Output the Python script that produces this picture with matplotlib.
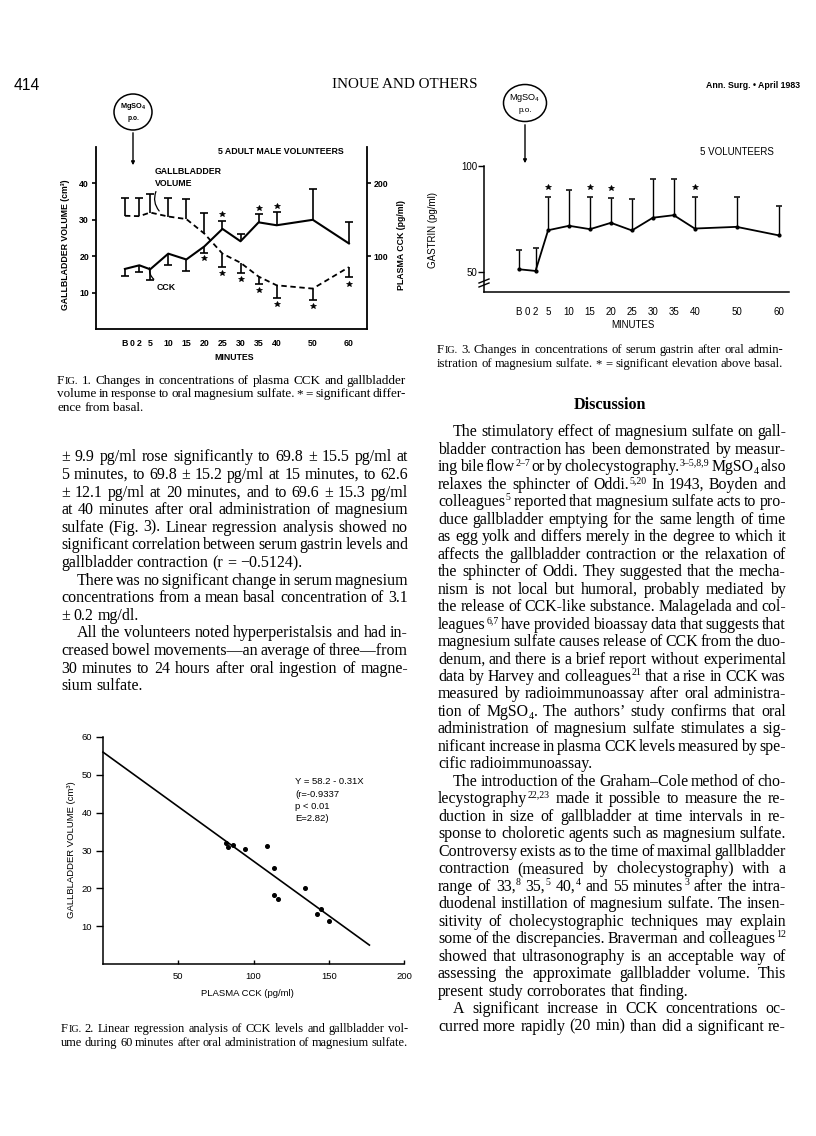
import re
from functools import lru_cache
import matplotlib
matplotlib.use('Agg')
import matplotlib.pyplot as plt
from matplotlib import font_manager as fm
from matplotlib.patches import Ellipse, FancyArrowPatch
from matplotlib.lines import Line2D

# ---------------- data ----------------
tick_pos = [-2, 0, 2, 5, 10, 15, 20, 25, 30, 35, 40, 50, 60]
tick_lab = ['B', '0', '2', '5', '10', '15', '20', '25', '30', '35', '40', '50', '60']
time_pts = [-2, 2, 5, 10, 15, 20, 25, 30, 35, 40, 50, 60]

# Fig 1: gallbladder volume (cm3, left axis) and plasma CCK (pg/ml, right axis)
gb_volume = [31.1, 31.0, 32.0, 30.9, 30.2, 26.2, 20.7, 18.2, 14.4, 12.0, 11.1, 17.0]
gb_err = [4.8, 4.9, 5.0, 5.0, 5.4, 5.6, -3.6, -2.9, -2.1, -3.5, -3.1, -2.8]
gb_sig = [0, 0, 0, 0, 0, 0, 1, 1, 1, 1, 1, 1]
cck_level = [82.5, 87.5, 82.0, 103.5, 95.5, 113.5, 137.5, 120.5, 146.5, 142.5, 150.0, 117.5]
cck_err = [-10, -9, -14.5, -16, -16, -9, 11.5, 10.5, 11.5, 18, 42, 30]
cck_sig = [0, 0, 0, 0, 0, 1, 1, 0, 1, 1, 0, 0]

# Fig 2: regression of gallbladder volume on plasma CCK
reg_cck = [81.9, 83.2, 86.7, 94.5, 108.8, 113.3, 113.7, 116.4, 134.3, 142.3, 144.9, 150.0]
reg_vol = [32.0, 30.9, 31.5, 30.3, 31.1, 25.4, 18.2, 17.3, 20.2, 13.2, 14.5, 11.3]
fit_x = [0, 177]
fit_y = [56.0, 5.0]
fit_text = ["Y = 58.2 - 0.31X", "(r=-0.9337", "p < 0.01", "E=2.82)"]

# Fig 3: serum gastrin (pg/ml)
gastrin = [51.3, 50.5, 69.7, 71.8, 70.2, 73.2, 69.6, 75.6, 76.8, 70.5, 71.3, 67.3]
gastrin_err = [9.3, 10.7, 15.8, 16.7, 15.3, 11.7, 14.6, 18.1, 17.2, 15.0, 14.2, 13.9]
gastrin_sig = [0, 0, 1, 0, 1, 1, 0, 0, 0, 1, 0, 0]

# ---------------- page text ----------------
fig1_caption = ["F~{IG.} 1. Changes in concentrations of plasma CCK and gallbladder",
                "volume in response to oral magnesium sulfate. * = significant differ-",
                "ence from basal."]
fig2_caption = ["F~{IG.} 2. Linear regression analysis of CCK levels and gallbladder vol-",
                "ume during 60 minutes after oral administration of magnesium sulfate."]
fig3_caption = ["F~{IG.} 3. Changes in concentrations of serum gastrin after oral admin-",
                "istration of magnesium sulfate. * = significant elevation above basal."]

left_paras = [
    (False, ["± 9.9 pg/ml rose significantly to 69.8 ± 15.5 pg/ml at",
             "5 minutes, to 69.8 ± 15.2 pg/ml at 15 minutes, to 62.6",
             "± 12.1 pg/ml at 20 minutes, and to 69.6 ± 15.3 pg/ml",
             "at 40 minutes after oral administration of magnesium",
             "sulfate (Fig. 3). Linear regression analysis showed no",
             "significant correlation between serum gastrin levels and",
             "gallbladder contraction (r = \u22120.5124)."]),
    (True, ["There was no significant change in serum magnesium",
            "concentrations from a mean basal concentration of 3.1",
            "± 0.2 mg/dl."]),
    (True, ["All the volunteers noted hyperperistalsis and had in-",
            "creased bowel movements\u2014an average of three\u2014from",
            "30 minutes to 24 hours after oral ingestion of magne-",
            "sium sulfate."]),
]

right_paras = [
    (True, ["The stimulatory effect of magnesium sulfate on gall-",
            "bladder contraction has been demonstrated by measur-",
            "ing bile flow^{2\u20137} or by cholecystography.^{3\u20135,8,9} MgSO_{4} also",
            "relaxes the sphincter of Oddi.^{5,20} In 1943, Boyden and",
            "colleagues^{5} reported that magnesium sulfate acts to pro-",
            "duce gallbladder emptying for the same length of time",
            "as egg yolk and differs merely in the degree to which it",
            "affects the gallbladder contraction or the relaxation of",
            "the sphincter of Oddi. They suggested that the mecha-",
            "nism is not local but humoral, probably mediated by",
            "the release of CCK-like substance. Malagelada and col-",
            "leagues^{6,7} have provided bioassay data that suggests that",
            "magnesium sulfate causes release of CCK from the duo-",
            "denum, and there is a brief report without experimental",
            "data by Harvey and colleagues^{21} that a rise in CCK was",
            "measured by radioimmunoassay after oral administra-",
            "tion of MgSO_{4}. The authors\u2019 study confirms that oral",
            "administration of magnesium sulfate stimulates a sig-",
            "nificant increase in plasma CCK levels measured by spe-",
            "cific radioimmunoassay."]),
    (True, ["The introduction of the Graham\u2013Cole method of cho-",
            "lecystography^{22,23} made it possible to measure the re-",
            "duction in size of gallbladder at time intervals in re-",
            "sponse to choloretic agents such as magnesium sulfate.",
            "Controversy exists as to the time of maximal gallbladder",
            "contraction (measured by cholecystography) with a",
            "range of 33,^{8} 35,^{5} 40,^{4} and 55 minutes^{3} after the intra-",
            "duodenal instillation of magnesium sulfate. The insen-",
            "sitivity of cholecystographic techniques may explain",
            "some of the discrepancies. Braverman and colleagues^{12}",
            "showed that ultrasonography is an acceptable way of",
            "assessing the approximate gallbladder volume. This",
            "present study corroborates that finding."]),
    (True, ["A significant increase in CCK concentrations oc-",
            "curred more rapidly (20 min) than did a significant re-"]),
]
right_last_continues = True   # last paragraph continues on next page

# ---------------- setup ----------------
W, H = 816, 1136
names = {f.name for f in fm.fontManager.ttflist}
SERIF = 'Liberation Serif'
SANS = 'Liberation Sans'
NARROW = 'Liberation Sans Narrow' if 'Liberation Sans Narrow' in names else SANS
plt.rcParams['font.family'] = SANS
plt.rcParams['mathtext.fontset'] = 'custom'
plt.rcParams['mathtext.rm'] = SANS
plt.rcParams['mathtext.bf'] = SANS + ':bold'
plt.rcParams['mathtext.it'] = SANS + ':italic'

fig = plt.figure(figsize=(W / 100, H / 100), dpi=100)
fig.patch.set_facecolor('white')
R = fig.canvas.get_renderer()


def fx(x):
    return x / W


def fy(y):
    return 1 - y / H


@lru_cache(maxsize=None)
def tw(s, size, family=SERIF, weight='normal'):
    t = fig.text(0, 0, s, fontsize=size, family=family, weight=weight)
    w = t.get_window_extent(R).width
    t.remove()
    return w


def ptext(x, y, s, size, ha='left', va='center', family=SANS, weight='normal', rot=0):
    return fig.text(fx(x), fy(y), s, fontsize=size, ha=ha, va=va, family=family,
                    weight=weight, rotation=rot)


TOK = re.compile(r'\^\{([^}]*)\}|_\{([^}]*)\}|~\{([^}]*)\}|([^\^_~{}]+)')


def segs(word):
    out = []
    for m in TOK.finditer(word):
        if m.group(1) is not None:
            out.append((m.group(1), 'sup'))
        elif m.group(2) is not None:
            out.append((m.group(2), 'sub'))
        elif m.group(3) is not None:
            out.append((m.group(3), 'sc'))
        else:
            out.append((m.group(4), 'n'))
    return out


def seg_fmt(kind, size):
    em = size * 100 / 72
    if kind == 'sup':
        return size * 0.62, -0.36 * em
    if kind == 'sub':
        return size * 0.62, 0.16 * em
    if kind == 'sc':
        return size * 0.8, 0.0
    return size, 0.0


def seg_gap(kind, size):
    # small extra kerning before sub/superscripts
    return 0.6 if kind in ('sup', 'sub') else (0.4 if kind == 'sc' else 0.0)


def word_w(word, size, family=SERIF, weight='normal'):
    return sum(tw(s, seg_fmt(k, size)[0], family, weight) + (seg_gap(k, size) if i else 0)
               for i, (s, k) in enumerate(segs(word)))


def space_w(size, family=SERIF, weight='normal'):
    return tw('n n', size, family, weight) - tw('nn', size, family, weight)


def draw_word(word, x, base, size, family, weight):
    for i, (s, k) in enumerate(segs(word)):
        sz, dy = seg_fmt(k, size)
        if i:
            x += seg_gap(k, size)
        fig.text(fx(x), fy(base + dy), s, fontsize=sz, family=family, weight=weight,
                 ha='left', va='baseline')
        x += tw(s, sz, family, weight)


def draw_line(line, x0, x1, center, size, family=SERIF, weight='normal', justify=True):
    words = line.split()
    ws = [word_w(w, size, family, weight) for w in words]
    sp = space_w(size, family, weight)
    if justify and len(words) > 1:
        gap = (x1 - x0 - sum(ws)) / (len(words) - 1)
    else:
        gap = sp
    base = center + 0.27 * size * 100 / 72
    x = x0
    for w, wd in zip(words, ws):
        draw_word(w, x, base, size, family, weight)
        x += wd + gap


def fit_size(items, family=SERIF, weight='normal', ref=10.0):
    ratios = []
    for ln, width in items:
        words = ln.split()
        nat = sum(word_w(w, ref, family, weight) for w in words) + \
            (len(words) - 1) * space_w(ref, family, weight)
        ratios.append(width / nat)
    ratios.sort()
    return ref * ratios[len(ratios) // 2]


def layout(paras, x0, x1, y0, lead, indent, family=SERIF, continues_last=False):
    items = []
    for ind, lines in paras:
        for i, ln in enumerate(lines):
            if i < len(lines) - 1:
                items.append((ln, x1 - x0 - (indent if (ind and i == 0) else 0)))
    size = fit_size(items, family) * 0.99
    y = y0
    for pi, (ind, lines) in enumerate(paras):
        for i, ln in enumerate(lines):
            xs = x0 + (indent if (ind and i == 0) else 0)
            last = (i == len(lines) - 1)
            if continues_last and pi == len(paras) - 1:
                last = False
            draw_line(ln, xs, x1, y, size, family, justify=not last)
            y += lead
    return size


def caption(lines, x0, x1, y0, lead, justify_last):
    items = [(ln, x1 - x0) for ln in lines[:-1]] + ([(lines[-1], x1 - x0)] if justify_last else [])
    size = fit_size(items) * 0.99
    for i, ln in enumerate(lines):
        last = i == len(lines) - 1
        draw_line(ln, x0, x1, y0 + i * lead, size, justify=(not last) or justify_last)


def fit_font(s, width, family, weight='normal', ref=10.0):
    return ref * width / tw(s, ref, family, weight)


def add_axes(l, t, r, b):
    return fig.add_axes([fx(l), fy(b), (r - l) / W, (b - t) / H])


def mg_bubble(cx, cy, w, h, y_top, y_tip, size, bold):
    fig.add_artist(Ellipse((fx(cx), fy(cy)), w / W, h / H, transform=fig.transFigure,
                           fill=False, lw=1.1, color='k'))
    s = r'$\mathbf{MgSO_4}$' if bold else r'MgSO$_4$'
    ptext(cx, cy - 5, s, size, ha='center', weight='bold' if bold else 'normal')
    ptext(cx, cy + 7, 'p.o.', size * 0.9, ha='center', weight='bold' if bold else 'normal')
    fig.add_artist(FancyArrowPatch((fx(cx), fy(y_top)), (fx(cx), fy(y_tip)),
                                   transform=fig.transFigure, arrowstyle='-|>',
                                   mutation_scale=5, lw=1.0, color='k'))


# ---------------- header ----------------
ptext(14, 86, '414', fit_font('414', 26, NARROW), family=NARROW)
ptext(405, 85, 'INOUE AND OTHERS', fit_font('INOUE AND OTHERS', 146, SERIF), ha='center', family=SERIF)
ptext(800, 85, 'Ann. Surg. \u2022 April 1983', fit_font('Ann. Surg. \u2022 April 1983', 94, NARROW, 'bold'),
      ha='right', family=NARROW, weight='bold')

# ---------------- Fig 1 ----------------
F1 = 6.3
ax1 = add_axes(96, 147, 367, 329)
ax1.set_xlim(-10, 65)
ax1.set_ylim(0, 50)
for s in ['top', 'right']:
    ax1.spines[s].set_visible(False)
for s in ['left', 'bottom']:
    ax1.spines[s].set_linewidth(1.3)
ax1.set_yticks([10, 20, 30, 40])
ax1.tick_params(axis='y', direction='out', length=3, width=1.2, pad=2, labelsize=F1)
ax1.set_xticks(tick_pos)
ax1.set_xticklabels(tick_lab)
ax1.tick_params(axis='x', length=0, pad=7, labelsize=F1)
for lb in ax1.get_xticklabels() + ax1.get_yticklabels():
    lb.set_fontweight('bold')
ax1.patch.set_alpha(0)

ax1r = ax1.twinx()
ax1r.set_ylim(0, 250)
for s in ['top', 'left', 'bottom']:
    ax1r.spines[s].set_visible(False)
ax1r.spines['right'].set_linewidth(1.3)
ax1r.set_yticks([100, 200])
ax1r.tick_params(axis='y', direction='out', length=3, width=1.2, pad=2, labelsize=F1)
for lb in ax1r.get_yticklabels():
    lb.set_fontweight('bold')

gb_end = [v + e for v, e in zip(gb_volume, gb_err)]
ax1.plot(time_pts, gb_volume, ls=(0, (3.0, 2.0)), color='k', lw=1.3)
ax1.vlines(time_pts, gb_volume, gb_end, color='k', lw=1.2)
ax1.plot(time_pts, gb_end, ls='none', marker='_', ms=5.5, mew=1.2, color='k')
for x, e, end, sg in zip(time_pts, gb_err, gb_end, gb_sig):
    if sg:
        ax1.plot(x, end + (1.7 if e > 0 else -1.7), marker='*', ms=4.2, color='k', mew=0.5)

cck_end = [v + e for v, e in zip(cck_level, cck_err)]
ax1r.plot(time_pts, cck_level, '-', color='k', lw=1.5)
ax1r.vlines(time_pts, cck_level, cck_end, color='k', lw=1.2)
ax1r.plot(time_pts, cck_end, ls='none', marker='_', ms=5.5, mew=1.2, color='k')
for x, e, end, sg in zip(time_pts, cck_err, cck_end, cck_sig):
    if sg:
        ax1r.plot(x, end + (8.5 if e > 0 else -7.0), marker='*', ms=4.2, color='k', mew=0.5)

ptext(65, 245, 'GALLBLADDER VOLUME (cm\u00b3)', F1, ha='center', weight='bold', rot=90)
ptext(401, 245, 'PLASMA CCK (pg/ml)', F1, ha='center', weight='bold', rot=90)
ptext(234, 357, 'MINUTES', F1, ha='center', weight='bold')
ptext(218, 152, '5 ADULT MALE VOLUNTEERS', F1, weight='bold')
ptext(155, 171, 'GALLBLADDER', F1, weight='bold')
ptext(155, 183, 'VOLUME', F1, weight='bold')
ptext(157, 287, 'CCK', F1, weight='bold')
fig.add_artist(FancyArrowPatch((fx(157), fy(189)), (fx(161), fy(213)), transform=fig.transFigure,
                               arrowstyle='-', connectionstyle='arc3,rad=0.35', lw=0.9, color='k'))
fig.add_artist(FancyArrowPatch((fx(150), fy(265)), (fx(156), fy(281)), transform=fig.transFigure,
                               arrowstyle='-', connectionstyle='arc3,rad=0.35', lw=0.9, color='k'))
mg_bubble(133, 112, 38, 36, 130, 168, 5.3, True)

# ---------------- Fig 3 ----------------
F3 = 7.0
ax3 = add_axes(484, 166, 789, 292)
ax3.set_xlim(-10.3, 62.5)
ax3.set_ylim(40.57, 100)
for s in ['top', 'right']:
    ax3.spines[s].set_visible(False)
for s in ['left', 'bottom']:
    ax3.spines[s].set_linewidth(1.1)
ax3.set_yticks([50, 100])
ax3.tick_params(axis='y', direction='out', length=4, width=1.0, pad=1, labelsize=F3)
ax3.set_xticks(tick_pos)
ax3.set_xticklabels(tick_lab)
ax3.tick_params(axis='x', length=0, pad=11, labelsize=F3)
g_end = [v + e for v, e in zip(gastrin, gastrin_err)]
ax3.plot(time_pts, gastrin, '-', color='k', lw=1.3, marker='o', ms=2.0)
ax3.vlines(time_pts, gastrin, g_end, color='k', lw=1.0)
ax3.plot(time_pts, g_end, ls='none', marker='_', ms=5.0, mew=1.1, color='k')
for x, end, sg in zip(time_pts, g_end, gastrin_sig):
    if sg:
        ax3.plot(x, end + 4.6, marker='*', ms=4.2, color='k', mew=0.5)
for yy in (281, 285):
    fig.add_artist(Line2D([fx(479), fx(489)], [fy(yy + 2), fy(yy - 2)], color='k', lw=1.0))
ptext(433, 230, 'GASTRIN (pg/ml)', F3, ha='center', rot=90)
ptext(633, 325, 'MINUTES', F3, ha='center')
ptext(700, 152, '5 VOLUNTEERS', F3)
mg_bubble(525, 103, 43, 37, 122, 166, 6.6, False)

# ---------------- Fig 2 ----------------
F2 = 6.8
ax2 = add_axes(103, 737, 404, 964)
ax2.set_xlim(0, 200)
ax2.set_ylim(0, 60)
for s in ['top', 'right']:
    ax2.spines[s].set_visible(False)
for s in ['left', 'bottom']:
    ax2.spines[s].set_linewidth(1.1)
ax2.set_yticks([10, 20, 30, 40, 50, 60])
ax2.tick_params(axis='y', direction='out', length=5, width=1.0, pad=3, labelsize=F2)
ax2.set_xticks([50, 100, 150, 200])
ax2.tick_params(axis='x', direction='in', length=3, width=1.0, pad=6, labelsize=F2)
ax2.plot(fit_x, fit_y, '-', color='k', lw=1.2, clip_on=False)
ax2.plot(reg_cck, reg_vol, 'o', ms=2.6, color='k')
for i, s in enumerate(fit_text):
    ptext(295, 782 + 12.2 * i, s, F2)
ptext(72, 850, 'GALLBLADDER VOLUME (cm\u00b3)', F2, ha='center', rot=90)
ptext(247, 993, 'PLASMA CCK (pg/ml)', F2, ha='center')

# ---------------- captions & body text ----------------
caption(fig1_caption, 57, 406, 380, 13.5, False)
caption(fig3_caption, 437, 783, 350, 13.5, True)
caption(fig2_caption, 61, 408, 1029, 14.0, True)

layout(left_paras, 61, 408, 457, 17.6, 16)
bs = layout(right_paras, 438, 786, 432, 17.48, 15, continues_last=right_last_continues)
ptext(610, 405, 'Discussion', bs * 1.02, ha='center', family=SERIF, weight='bold')

fig.savefig('out.png', dpi=100, facecolor='white')
